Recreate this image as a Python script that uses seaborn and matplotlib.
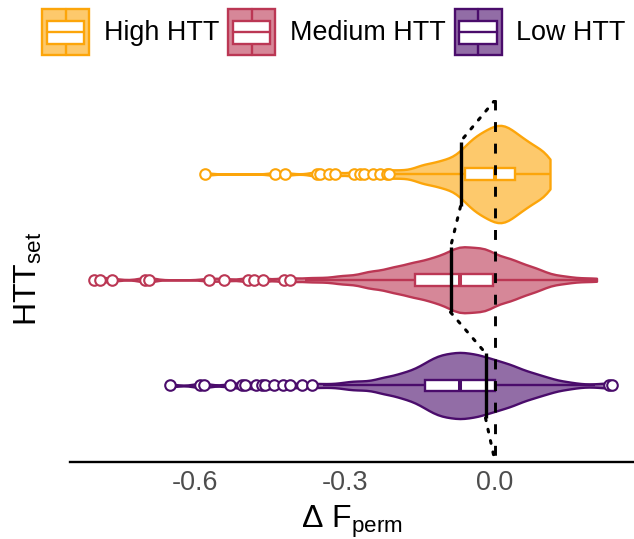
import numpy as np
import pandas as pd
import matplotlib
matplotlib.use("Agg")
import matplotlib.pyplot as plt
import seaborn as sns
from matplotlib.legend_handler import HandlerBase
from matplotlib.patches import Rectangle
from matplotlib.lines import Line2D
from matplotlib.colors import to_rgb

# ---------------- data ----------------
groups = ["High HTT", "Medium HTT", "Low HTT"]
colors = ["#FCA50A", "#BB3754", "#4A0C6B"]

# individual outlying permutations (circles)
high_outliers = [-0.580, -0.440, -0.421, -0.357, -0.351, -0.332, -0.320,
                 -0.283, -0.270, -0.263, -0.245, -0.231, -0.217, -0.212]
medium_outliers = [-0.803, -0.790, -0.767, -0.700, -0.693, -0.573, -0.543,
                   -0.495, -0.483, -0.465, -0.422, -0.411]
low_outliers = [-0.650, -0.590, -0.583, -0.531, -0.507, -0.500, -0.478,
                -0.467, -0.460, -0.442, -0.425, -0.410, -0.387, -0.367,
                0.227, 0.233]

# bulk of the permutation distribution, binned: value -> count
high_bin_values = [-0.20, -0.19, -0.18, -0.17, -0.16, -0.15, -0.14, -0.13,
                   -0.12, -0.11, -0.10, -0.09, -0.08, -0.07, -0.06, -0.05,
                   -0.04, -0.03, -0.02, -0.01, 0.00, 0.01, 0.02, 0.03, 0.04,
                   0.05, 0.06, 0.07, 0.08, 0.09, 0.10, 0.11]
high_bin_counts = [1, 1, 1, 1, 1, 3, 2, 3,
                   2, 4, 3, 4, 4, 5, 7, 8,
                   9, 10, 10, 11, 12, 12, 12, 11, 10,
                   9, 8, 8, 6, 6, 6, 5]

medium_bin_values = [-0.38, -0.36, -0.34, -0.32, -0.31, -0.30, -0.29, -0.28,
                     -0.27, -0.26, -0.25, -0.24, -0.23, -0.22, -0.21, -0.20,
                     -0.19, -0.18, -0.17, -0.16, -0.15, -0.14, -0.13, -0.12,
                     -0.11, -0.10, -0.09, -0.08, -0.07, -0.06, -0.05, -0.04,
                     -0.03, -0.02, -0.01, 0.00, 0.01, 0.02, 0.03, 0.04, 0.05,
                     0.06, 0.07, 0.08, 0.09, 0.10, 0.11, 0.12, 0.13, 0.14,
                     0.155, 0.178, 0.203]
medium_bin_counts = [1, 1, 1, 1, 1, 1, 1, 1,
                     1, 2, 2, 2, 2, 2, 3, 3,
                     3, 3, 4, 4, 4, 4, 5, 5,
                     5, 6, 6, 7, 8, 7, 7, 7,
                     7, 7, 7, 5, 5, 5, 5, 4, 4,
                     3, 3, 3, 2, 2, 1, 1, 1, 1,
                     1, 1, 1]

low_bin_values = [-0.345, -0.32, -0.30, -0.29, -0.28, -0.27, -0.26, -0.25,
                  -0.24, -0.23, -0.22, -0.21, -0.20, -0.19, -0.18, -0.17,
                  -0.16, -0.15, -0.14, -0.13, -0.12, -0.11, -0.10, -0.09,
                  -0.08, -0.07, -0.06, -0.05, -0.04, -0.03, -0.02, -0.01,
                  0.00, 0.01, 0.02, 0.03, 0.04, 0.05, 0.06, 0.07, 0.08, 0.09,
                  0.10, 0.11, 0.12, 0.13, 0.14, 0.15, 0.17, 0.20]
low_bin_counts = [1, 1, 1, 1, 1, 1, 1, 1,
                  1, 2, 2, 2, 2, 3, 3, 3,
                  4, 4, 5, 6, 6, 7, 7, 7,
                  7, 8, 7, 7, 7, 7, 6, 6,
                  6, 5, 5, 5, 4, 4, 3, 3, 3, 2,
                  2, 2, 1, 1, 1, 1, 1, 1]

# observed value per set (black solid bars)
observed = [-0.069, -0.089, -0.019]

x_ticks = [-0.6, -0.3, 0.0]
x_tick_labels = ["-0.6", "-0.3", "0.0"]

values_by_group = {
    "High HTT": high_outliers + list(np.repeat(high_bin_values, high_bin_counts)),
    "Medium HTT": medium_outliers + list(np.repeat(medium_bin_values, medium_bin_counts)),
    "Low HTT": low_outliers + list(np.repeat(low_bin_values, low_bin_counts)),
}
df = pd.DataFrame(
    [(g, float(v)) for g in groups for v in values_by_group[g]],
    columns=["group", "value"],
)

# ---------------- style ----------------
sns.set_theme(style="white")
plt.rcParams["font.family"] = ["Liberation Sans", "DejaVu Sans"]
plt.rcParams["mathtext.fontset"] = "custom"
plt.rcParams["mathtext.rm"] = "Liberation Sans"
plt.rcParams["mathtext.it"] = "Liberation Sans:italic"
plt.rcParams["mathtext.bf"] = "Liberation Sans:bold"
plt.rcParams["text.color"] = "black"

W, H = 634, 539
fig = plt.figure(figsize=(W / 100, H / 100), dpi=100)
ax_l, ax_r, ax_t, ax_b = 69.5, 634, 100, 461.5
ax = fig.add_axes([ax_l / W, (H - ax_b) / H, (ax_r - ax_l) / W, (ax_b - ax_t) / H])

palette = dict(zip(groups, colors))
LW = 1.7
BANDWIDTH = 0.0155


def lighten(c, a=0.6):
    r = np.array(to_rgb(c))
    return tuple(a * r + (1 - a) * np.ones(3))


def fixed_bw(kde):
    return BANDWIDTH / np.std(kde.dataset, ddof=1)


sns.violinplot(
    data=df, x="value", y="group", hue="group", order=groups, hue_order=groups,
    palette=palette, inner=None, cut=0, density_norm="area", common_norm=True,
    width=0.92, linewidth=LW, bw_method=fixed_bw, saturation=1, legend=False,
    ax=ax,
)
for coll in list(ax.collections):
    fc = np.array(coll.get_facecolor())[0][:3]
    dists = [np.sum((fc - np.array(to_rgb(c))) ** 2) for c in colors]
    c = colors[int(np.argmin(dists))]
    coll.set_facecolor(lighten(c))
    coll.set_edgecolor(c)
    coll.set_linewidth(LW)

for g, c in zip(groups, colors):
    sns.boxplot(
        data=df[df["group"] == g], x="value", y="group", order=groups,
        color=c, linecolor=c, width=0.11, linewidth=LW, showcaps=False,
        whis=1.5, saturation=1, ax=ax,
        boxprops=dict(facecolor="white", edgecolor=c, linewidth=LW),
        medianprops=dict(color=c, linewidth=LW + 1.2),
        whiskerprops=dict(color=c, linewidth=LW),
        flierprops=dict(marker="o", markerfacecolor="white",
                        markeredgecolor=c, markersize=7.6,
                        markeredgewidth=1.5),
    )

# observed value bars and dotted connector between their ends
half = 0.307
y_top, y_bot = -0.70, 2.719
ends_x = [0.0]
ends_y = [y_top]
for i, m in enumerate(observed):
    ends_x += [m, m]
    ends_y += [i - half, i + half]
ends_x.append(0.0)
ends_y.append(y_bot)
for k in range(0, len(ends_x), 2):
    ax.plot(ends_x[k:k + 2], ends_y[k:k + 2], color="black", lw=2.2,
            linestyle=(0, (0.9, 2.9)), dash_capstyle="round", zorder=6)
for i, m in enumerate(observed):
    ax.plot([m, m], [i - half, i + half], color="black", lw=2.4,
            solid_capstyle="butt", zorder=7)

ax.plot([0, 0], [y_top, y_bot], color="black", lw=2.1,
        linestyle=(0, (3.4, 4.0)), zorder=8)

ax.set_xlim(-0.851, 0.278)
ax.set_ylim(y_bot, y_top)
ax.set_xticks(x_ticks)
ax.set_xticklabels(x_tick_labels)
ax.tick_params(axis="x", length=3.6, width=1.4, color="#333333", pad=2.5,
               labelsize=19.4, labelcolor="#4D4D4D", direction="out")
ax.tick_params(axis="y", left=False, labelleft=False)
ax.set_xlabel("")
ax.set_ylabel("")
for s in ["top", "right", "left"]:
    ax.spines[s].set_visible(False)
ax.spines["bottom"].set_color("black")
ax.spines["bottom"].set_linewidth(1.7)
ax.grid(False)

fig.text((ax_l + ax_r) / 2 / W, 1 - 528 / H, "Δ F$_{\\mathrm{perm}}$",
         ha="center", va="baseline", fontsize=23, color="black")
fig.text(28.5 / W, 1 - 279 / H, "HTT$_{\\mathrm{set}}$", rotation=90,
         ha="center", va="center", fontsize=23, color="black")


# ---------------- legend ----------------
class BoxViolinHandler(HandlerBase):
    def __init__(self, edge):
        super().__init__()
        self.edge = edge

    def create_artists(self, legend, orig_handle, xdescent, ydescent,
                       width, height, fontsize, trans):
        x0, y0 = -xdescent, -ydescent
        hh = height
        e = self.edge
        outer = Rectangle((x0, y0), width, hh, facecolor=lighten(e),
                          edgecolor=e, lw=LW, transform=trans)
        bx0, bw = x0 + 0.1 * width, 0.8 * width
        by0, bh = y0 + 0.25 * hh, 0.5 * hh
        w1 = Line2D([x0 + width / 2] * 2, [y0, by0], color=e, lw=LW,
                    transform=trans)
        w2 = Line2D([x0 + width / 2] * 2, [by0 + bh, y0 + hh], color=e,
                    lw=LW, transform=trans)
        inner = Rectangle((bx0, by0), bw, bh, facecolor="white", edgecolor=e,
                          lw=LW, transform=trans)
        med = Line2D([bx0, bx0 + bw], [y0 + 0.5 * hh] * 2, color=e,
                     lw=LW, transform=trans)
        return [outer, w1, w2, inner, med]


handles = [Rectangle((0, 0), 1, 1) for _ in groups]
hmap = {h: BoxViolinHandler(c) for h, c in zip(handles, colors)}
fs = 19.4
fs_px = fs * 100 / 72
hh_units = (46 / fs_px - 0.245) / 0.65
leg = fig.legend(handles, groups, handler_map=hmap, loc="upper left",
                 bbox_to_anchor=(42 / W, 1 - 9 / H), ncol=3, frameon=False,
                 fontsize=fs, handlelength=47 / fs_px,
                 handleheight=hh_units, handletextpad=0.55,
                 columnspacing=0.33, borderpad=0, borderaxespad=0)
for t in leg.get_texts():
    t.set_color("black")

fig.savefig("out.png", dpi=100)
